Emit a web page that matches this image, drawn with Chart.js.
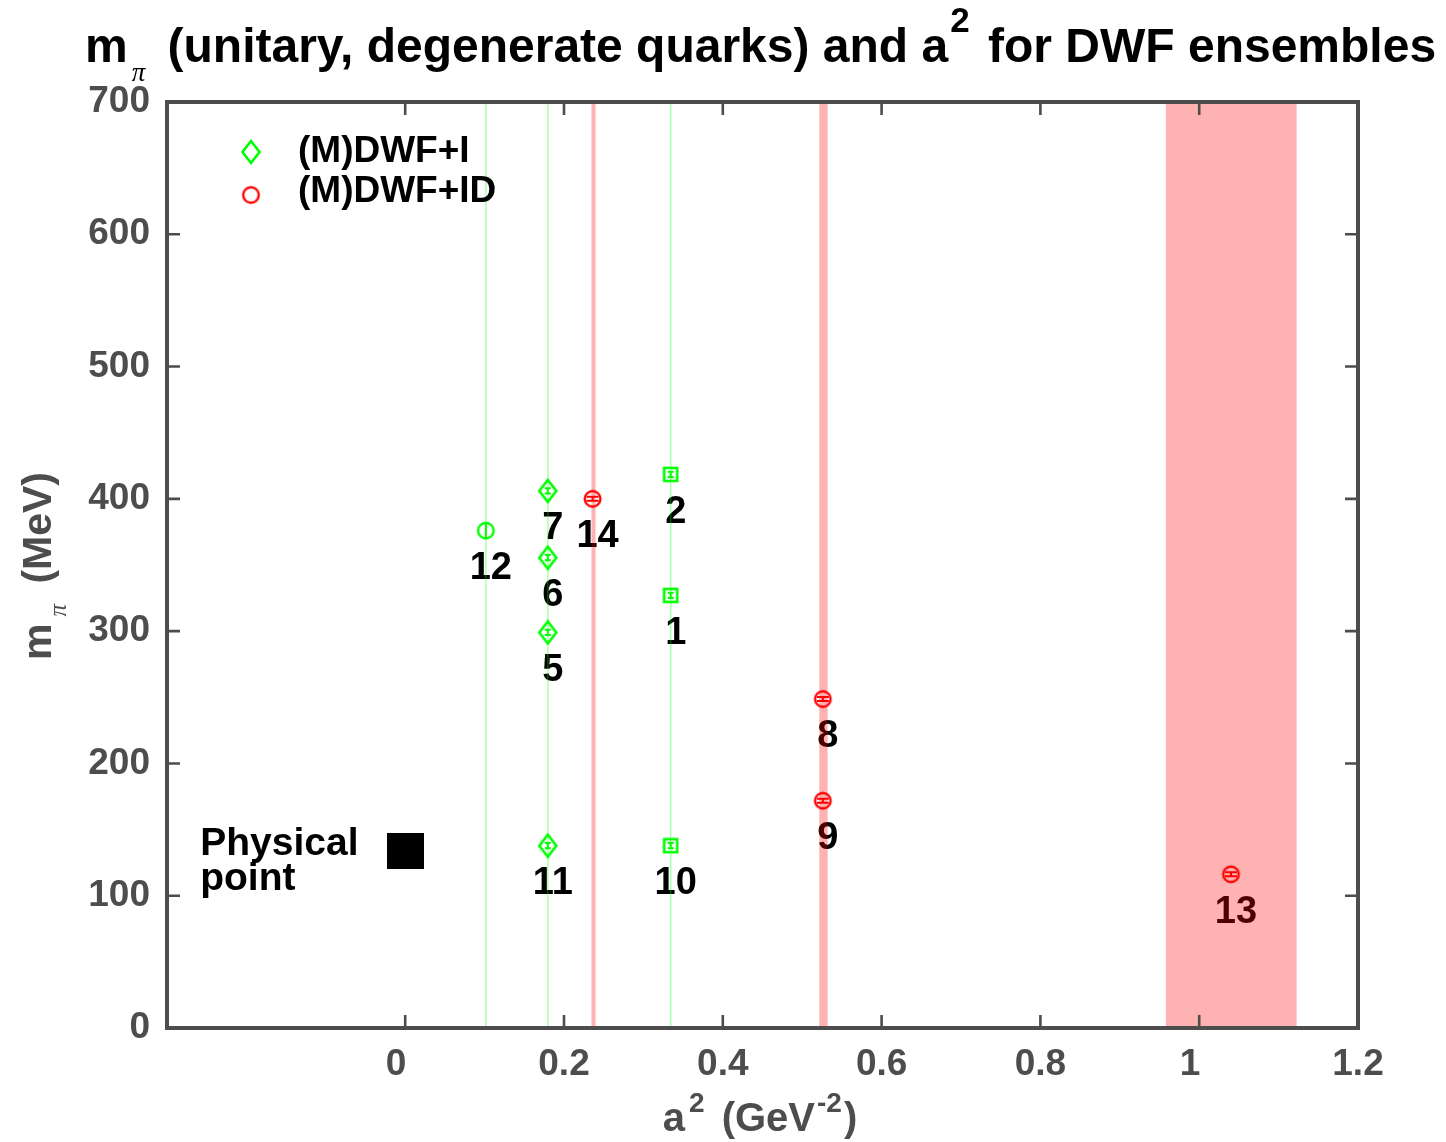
<!DOCTYPE html>
<html>
<head>
<meta charset="utf-8">
<title>m_pi and a^2 for DWF ensembles</title>
<script src="https://cdn.jsdelivr.net/npm/chart.js@4.4.1/dist/chart.umd.min.js"></script>
<style>
  html, body { margin: 0; padding: 0; background: #fff; }
  #wrap { width: 1446px; height: 1142px; }
</style>
</head>
<body>
<div id="wrap"><canvas id="ensembleChart" width="1446" height="1142"></canvas></div>
<script>
// Ensemble values (x = a^2 in GeV^-2, y = m_pi in MeV)
const diamondX = [0.1796, 0.1796, 0.1796, 0.1796];
const diamondY = [406, 355.5, 299, 137.8];
const diamondErr = [2, 2, 2, 2];
const diamondIds = ["7", "6", "5", "11"];

const squareX = [0.3344, 0.3344, 0.3344];
const squareY = [418.5, 327, 137.8];
const squareErr = [2, 2, 2];
const squareIds = ["2", "1", "10"];

const greenCircleX = [0.1016];
const greenCircleY = [376];
const greenCircleErr = [5.5];
const greenCircleIds = ["12"];

const redCircleX = [0.236, 0.526, 0.526, 1.04];
const redCircleY = [400, 248.7, 171.8, 116.2];
const redCircleErr = [1.5, 1.5, 1.5, 1.5];
const redCircleIds = ["14", "8", "9", "13"];

const physicalX = [0];
const physicalY = [134];

// a^2 of the lattices and their uncertainty bands
const greenLines = [0.1016, 0.1796, 0.3344];
const redBandLow = [0.2346, 0.5215, 0.958];
const redBandHigh = [0.2397, 0.532, 1.1227];

const xTicks = [0, 0.2, 0.4, 0.6, 0.8, 1, 1.2];
const yTicks = [0, 100, 200, 300, 400, 500, 600, 700];

const SANS = '"Liberation Sans", Arial, Helvetica, sans-serif';
const SERIF = '"Liberation Serif", "Times New Roman", serif';
const AXIS_GRAY = "#4d4d4d";
const GREEN = "#00ff00";
const RED = "#ff0000";

// marker images
function makeMarker(w, h, drawFn) {
  const c = document.createElement("canvas");
  c.width = w;
  c.height = h;
  drawFn(c.getContext("2d"), w, h);
  return c;
}

const diamondImg = makeMarker(22, 26, function (g, w, h) {
  g.strokeStyle = GREEN;
  g.lineWidth = 2.6;
  g.beginPath();
  g.moveTo(w / 2, 2);
  g.lineTo(w - 2.5, h / 2);
  g.lineTo(w / 2, h - 2);
  g.lineTo(2.5, h / 2);
  g.closePath();
  g.stroke();
});

const squareImg = makeMarker(17, 17, function (g, w, h) {
  g.strokeStyle = GREEN;
  g.lineWidth = 2.6;
  g.strokeRect(2, 2, w - 4, h - 4);
});

function circleImg(color) {
  return makeMarker(21, 21, function (g, w, h) {
    g.strokeStyle = color;
    g.lineWidth = 2.4;
    g.beginPath();
    g.arc(w / 2, h / 2, 7.8, 0, Math.PI * 2);
    g.stroke();
  });
}
const greenCircleImg = circleImg(GREEN);
const redCircleImg = circleImg(RED);

const physicalImg = makeMarker(37, 36, function (g, w, h) {
  g.fillStyle = "#000";
  g.fillRect(0, 0, w, h);
});

function toPoints(xs, ys) {
  return xs.map((x, i) => ({ x: x, y: ys[i] }));
}

// draw a line of mixed text pieces, returns total width
function richWidth(ctx, pieces) {
  let w = 0;
  pieces.forEach((p) => {
    ctx.font = p.font;
    w += (p.dx || 0) + ctx.measureText(p.text).width;
  });
  return w;
}
function drawRich(ctx, pieces, x, y) {
  pieces.forEach((p) => {
    ctx.font = p.font;
    x += p.dx || 0;
    ctx.fillText(p.text, x, y + (p.dy || 0));
    x += ctx.measureText(p.text).width;
  });
}

const groups = [
  { xs: diamondX, ys: diamondY, err: diamondErr, ids: diamondIds, color: GREEN, cap: 3 },
  { xs: squareX, ys: squareY, err: squareErr, ids: squareIds, color: GREEN, cap: 3 },
  { xs: greenCircleX, ys: greenCircleY, err: greenCircleErr, ids: greenCircleIds, color: GREEN, cap: 0 },
  { xs: redCircleX, ys: redCircleY, err: redCircleErr, ids: redCircleIds, color: RED, cap: 6 },
];

// ensemble numbers, then the a^2 lines and bands over them
const bandPlugin = {
  id: "bands",
  beforeDatasetsDraw(chart) {
    const ctx = chart.ctx;
    const xs = chart.scales.x;
    const ys = chart.scales.y;
    const area = chart.chartArea;

    ctx.save();
    ctx.fillStyle = "#000";
    ctx.font = "bold 38px " + SANS;
    ctx.textAlign = "center";
    ctx.textBaseline = "middle";
    groups.forEach((g) => {
      g.ids.forEach((id, i) => {
        const px = xs.getPixelForValue(g.xs[i]);
        const py = ys.getPixelForValue(g.ys[i]);
        ctx.fillText(id, px + 5, py + 38);
      });
    });

    // physical point label
    const ppx = xs.getPixelForValue(physicalX[0]);
    const ppy = ys.getPixelForValue(physicalY[0]);
    ctx.font = "bold 39px " + SANS;
    ctx.textAlign = "left";
    ctx.textBaseline = "alphabetic";
    ctx.fillText("Physical", ppx - 205, ppy + 4);
    ctx.fillText("point", ppx - 205, ppy + 39);

    ctx.fillStyle = "rgba(255, 0, 0, 0.3)";
    redBandLow.forEach((lo, i) => {
      const x0 = xs.getPixelForValue(lo);
      const x1 = xs.getPixelForValue(redBandHigh[i]);
      ctx.fillRect(x0, area.top, x1 - x0, area.bottom - area.top);
    });

    ctx.strokeStyle = "rgba(0, 255, 0, 0.3)";
    ctx.lineWidth = 1.6;
    greenLines.forEach((v) => {
      const x = xs.getPixelForValue(v);
      ctx.beginPath();
      ctx.moveTo(x, area.top);
      ctx.lineTo(x, area.bottom);
      ctx.stroke();
    });
    ctx.restore();
  },
  afterDatasetsDraw(chart) {
    // tiny error bars inside the markers
    const ctx = chart.ctx;
    const xs = chart.scales.x;
    const ys = chart.scales.y;
    ctx.save();
    ctx.lineWidth = 2;
    groups.forEach((g) => {
      ctx.strokeStyle = g.color;
      g.err.forEach((e, i) => {
        if (!e) return;
        const px = xs.getPixelForValue(g.xs[i]);
        const top = ys.getPixelForValue(g.ys[i] + e);
        const bot = ys.getPixelForValue(g.ys[i] - e);
        ctx.beginPath();
        ctx.moveTo(px, top);
        ctx.lineTo(px, bot);
        if (g.cap) {
          ctx.moveTo(px - g.cap, top);
          ctx.lineTo(px + g.cap, top);
          ctx.moveTo(px - g.cap, bot);
          ctx.lineTo(px + g.cap, bot);
        }
        ctx.stroke();
      });
    });
    ctx.restore();
  },
};

// box, inward ticks, titles and legend
const framePlugin = {
  id: "frame",
  afterDraw(chart) {
    const ctx = chart.ctx;
    const a = chart.chartArea;
    const xs = chart.scales.x;
    const ys = chart.scales.y;
    ctx.save();

    ctx.strokeStyle = AXIS_GRAY;
    ctx.lineWidth = 2.6;
    ctx.beginPath();
    xTicks.forEach((v) => {
      const x = xs.getPixelForValue(v);
      ctx.moveTo(x, a.bottom);
      ctx.lineTo(x, a.bottom - 13);
      ctx.moveTo(x, a.top);
      ctx.lineTo(x, a.top + 13);
    });
    yTicks.forEach((v) => {
      const y = ys.getPixelForValue(v);
      ctx.moveTo(a.left, y);
      ctx.lineTo(a.left + 13, y);
      ctx.moveTo(a.right, y);
      ctx.lineTo(a.right - 13, y);
    });
    ctx.stroke();
    ctx.lineWidth = 4;
    ctx.strokeRect(a.left, a.top, a.right - a.left, a.bottom - a.top);

    // title
    ctx.fillStyle = "#000";
    ctx.textAlign = "left";
    ctx.textBaseline = "alphabetic";
    drawRich(ctx, [
      { text: "m", font: "bold 48px " + SANS },
      { text: "\u03c0", font: "italic 27px " + SERIF, dx: 4, dy: 19 },
      { text: " (unitary, degenerate quarks) and a", font: "bold 48px " + SANS, dx: 9 },
      { text: "2", font: "bold 35px " + SANS, dx: 2, dy: -30 },
      { text: " for DWF ensembles", font: "bold 48px " + SANS, dx: 5 },
    ], 85, 62);

    // x axis title
    ctx.fillStyle = AXIS_GRAY;
    const xt = [
      { text: "a", font: "bold 40px " + SANS },
      { text: "2", font: "bold 28px " + SANS, dx: 4, dy: -19 },
      { text: " (GeV", font: "bold 40px " + SANS, dx: 6 },
      { text: "-2", font: "bold 28px " + SANS, dx: 2, dy: -19 },
      { text: ")", font: "bold 40px " + SANS, dx: 2 },
    ];
    drawRich(ctx, xt, 760 - richWidth(ctx, xt) / 2, 1131);

    // y axis title, rotated
    const yt = [
      { text: "m", font: "bold 41px " + SANS },
      { text: "\u03c0", font: "italic 25px " + SERIF, dx: 7, dy: 15 },
      { text: " (MeV)", font: "bold 41px " + SANS, dx: 9 },
    ];
    ctx.save();
    ctx.translate(51, 566 + richWidth(ctx, yt) / 2);
    ctx.rotate(-Math.PI / 2);
    drawRich(ctx, yt, 0, 0);
    ctx.restore();

    // legend
    ctx.drawImage(diamondImg, 251 - diamondImg.width / 2, 152 - diamondImg.height / 2);
    ctx.drawImage(redCircleImg, 251 - redCircleImg.width / 2, 195 - redCircleImg.height / 2);
    ctx.fillStyle = "#000";
    ctx.font = "bold 37px " + SANS;
    ctx.fillText("(M)DWF+I", 298, 162);
    ctx.fillText("(M)DWF+ID", 298, 202);

    ctx.restore();
  },
};

const ctx = document.getElementById("ensembleChart").getContext("2d");

const ensembleChart = new Chart(ctx, {
  type: "scatter",
  data: {
    datasets: [
      { label: "(M)DWF+I", data: toPoints(diamondX, diamondY), pointStyle: diamondImg },
      { label: "squares", data: toPoints(squareX, squareY), pointStyle: squareImg },
      { label: "12", data: toPoints(greenCircleX, greenCircleY), pointStyle: greenCircleImg },
      { label: "(M)DWF+ID", data: toPoints(redCircleX, redCircleY), pointStyle: redCircleImg },
      { label: "Physical point", data: toPoints(physicalX, physicalY), pointStyle: physicalImg },
    ],
  },
  options: {
    responsive: false,
    animation: false,
    layout: { padding: { top: 102, right: 88, left: 0, bottom: 0 } },
    plugins: {
      legend: { display: false },
      tooltip: { enabled: false },
    },
    scales: {
      x: {
        type: "linear",
        min: -0.3,
        max: 1.2,
        afterBuildTicks: (axis) => {
          axis.ticks = xTicks.map((v) => ({ value: v }));
        },
        afterFit: (axis) => {
          axis.height = 114;
        },
        grid: { display: false, drawTicks: false },
        border: { display: false },
        ticks: {
          autoSkip: false,
          maxRotation: 0,
          padding: 15,
          color: AXIS_GRAY,
          font: { family: SANS, size: 37, weight: "bold" },
          // whole numbers sit a little left of their tick in the original
          callback: (v) => (Number.isInteger(v) ? v + "\u2002" : String(v)),
        },
      },
      y: {
        type: "linear",
        min: 0,
        max: 700,
        afterBuildTicks: (axis) => {
          axis.ticks = yTicks.map((v) => ({ value: v }));
        },
        afterFit: (axis) => {
          axis.width = 167;
        },
        grid: { display: false, drawTicks: false },
        border: { display: false },
        ticks: {
          autoSkip: false,
          padding: 17,
          color: AXIS_GRAY,
          font: { family: SANS, size: 37, weight: "bold" },
          callback: (v) => String(v),
        },
      },
    },
  },
  plugins: [bandPlugin, framePlugin],
});
</script>
</body>
</html>
